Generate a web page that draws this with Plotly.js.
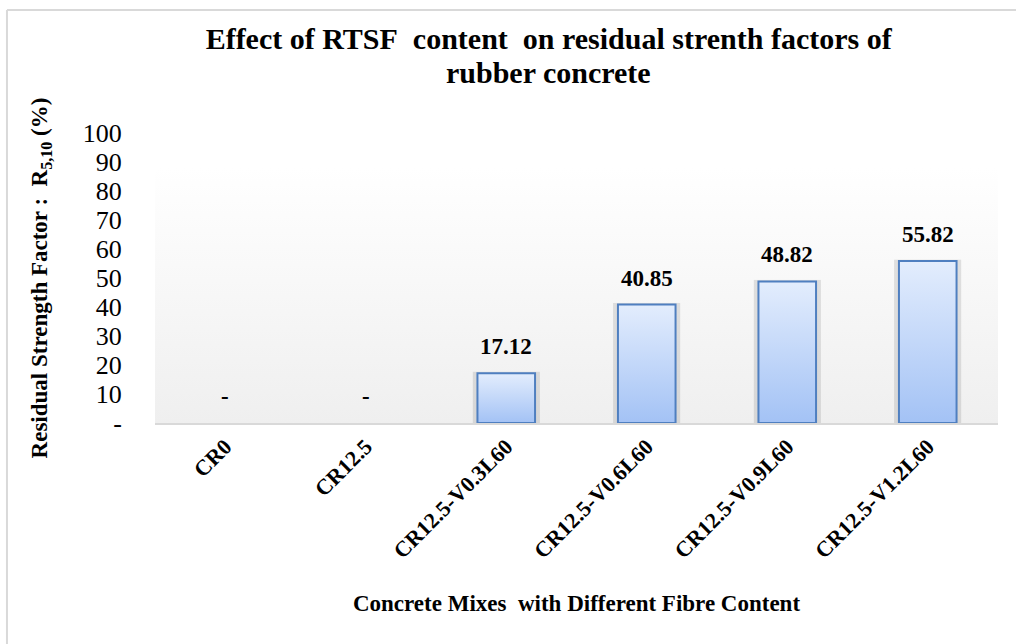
<!DOCTYPE html>
<html>
<head>
<meta charset="utf-8">
<script src="https://cdn.plot.ly/plotly-3.0.1.min.js"></script>
<style>
  html, body { margin: 0; padding: 0; background: #ffffff; }
  #chart { width: 1016px; height: 644px; }
</style>
</head>
<body>
<div id="chart"></div>
<script>
// Concrete mixes and their residual strength factor R5,10 (%)
const mixes = ["CR0", "CR12.5", "CR12.5-V0.3L60", "CR12.5-V0.6L60", "CR12.5-V0.9L60", "CR12.5-V1.2L60"];
const residualFactor = [0, 0, 17.12, 40.85, 48.82, 55.82];
const yTickValues = [0, 10, 20, 30, 40, 50, 60, 70, 80, 90, 100];
const yTickLabels = ["-", "10", "20", "30", "40", "50", "60", "70", "80", "90", "100"];
const titleLines = ["Effect of RTSF\u00a0 content\u00a0 on residual strenth factors of", "rubber concrete"];

const serif = "Liberation Serif, Times New Roman, serif";
const barWidth = 0.41;

// value labels: zero shown as a dash, accounting style
const barText = residualFactor.map(v => v === 0 ? "-" : v.toFixed(2));
// no outline for empty columns
const outlineWidth = residualFactor.map(v => v > 0 ? 2 : 0);

function svgUri(svg) {
  return "data:image/svg+xml;charset=utf-8," + encodeURIComponent(svg);
}

// soft white-to-grey fill for the plotting area
const plotBg = svgUri(
  '<svg xmlns="http://www.w3.org/2000/svg" width="100" height="100" preserveAspectRatio="none">' +
  '<defs><linearGradient id="g" x1="0" y1="0" x2="0" y2="1">' +
  '<stop offset="0" stop-color="#ffffff"/><stop offset="0.12" stop-color="#ffffff"/>' +
  '<stop offset="1" stop-color="#efefef"/>' +
  '</linearGradient></defs><rect width="100" height="100" fill="url(#g)"/></svg>');

// light-blue vertical fill used inside each column
const barFill = svgUri(
  '<svg xmlns="http://www.w3.org/2000/svg" width="100" height="100" preserveAspectRatio="none">' +
  '<defs><linearGradient id="b" x1="0" y1="0" x2="0" y2="1">' +
  '<stop offset="0" stop-color="#e3edfd"/><stop offset="1" stop-color="#a3c2f5"/>' +
  '</linearGradient></defs><rect width="100" height="100" fill="url(#b)"/></svg>');

// faint grey halo behind each column
const barShadow = svgUri(
  '<svg xmlns="http://www.w3.org/2000/svg" width="100" height="100" preserveAspectRatio="none">' +
  '<rect width="100" height="100" fill="#000000" fill-opacity="0.10"/></svg>');

const images = [{
  source: plotBg, xref: "paper", yref: "paper", x: 0, y: 1,
  sizex: 1, sizey: 1, sizing: "stretch", layer: "below", xanchor: "left", yanchor: "top"
}];
residualFactor.forEach((v, i) => {
  if (v <= 0) return;
  images.push({
    source: barShadow, xref: "x", yref: "y", x: i - barWidth / 2 - 0.035, y: v + 0.6,
    sizex: barWidth + 0.07, sizey: v + 0.6, sizing: "stretch", layer: "below",
    xanchor: "left", yanchor: "top"
  });
  images.push({
    source: barFill, xref: "x", yref: "y", x: i - barWidth / 2, y: v,
    sizex: barWidth, sizey: v, sizing: "stretch", layer: "below",
    xanchor: "left", yanchor: "top"
  });
});

const trace = {
  type: "bar",
  x: mixes,
  y: residualFactor,
  width: barWidth,
  marker: { color: "rgba(0,0,0,0)", line: { color: "#4f7fc0", width: outlineWidth } },
  hoverinfo: "x+y"
};

// value labels above each column
const annotations = residualFactor.map((v, i) => ({
  x: mixes[i], y: v, xref: "x", yref: "y",
  text: barText[i], showarrow: false,
  xanchor: "center", yanchor: "bottom", yshift: 12,
  font: { family: serif, size: 23, color: "#000000", weight: "bold" }
}));
// second title line
annotations.push({
  xref: "paper", yref: "paper", x: 0.467, y: 1.21,
  text: titleLines[1], showarrow: false, xanchor: "center", yanchor: "middle",
  font: { family: serif, size: 30, color: "#000000", weight: "bold" }
});

// outer frame of the figure
const frameColor = "#d9d9d9";
const shapes = [
  { type: "line", xref: "paper", yref: "paper", x0: -0.1756, x1: 1.03, y0: 1.424, y1: 1.424,
    line: { color: frameColor, width: 2 } },
  { type: "line", xref: "paper", yref: "paper", x0: -0.1756, x1: -0.1756, y0: 1.424, y1: -0.77,
    line: { color: frameColor, width: 2 } }
];

const layout = {
  width: 1016,
  height: 644,
  margin: { l: 155, r: 18, t: 133, b: 221 },
  paper_bgcolor: "#ffffff",
  plot_bgcolor: "rgba(0,0,0,0)",
  showlegend: false,
  title: {
    text: titleLines[0],
    font: { family: serif, size: 30, color: "#000000", weight: "bold" },
    x: 0.467, xref: "paper", xanchor: "center",
    yref: "container", y: 0.94, yanchor: "middle"
  },
  xaxis: {
    type: "category",
    tickangle: -45,
    tickfont: { family: serif, size: 22, color: "#000000", weight: "bold" },
    showgrid: false,
    showline: true,
    linecolor: "#d9d9d9",
    linewidth: 2,
    ticks: "",
    range: [-0.5, 5.5],
    title: {
      text: "Concrete Mixes\u00a0 with Different Fibre Content",
      font: { family: serif, size: 23, color: "#000000", weight: "bold" },
      standoff: 33
    }
  },
  yaxis: {
    range: [0, 100],
    tickvals: yTickValues,
    ticktext: yTickLabels,
    tickfont: { family: serif, size: 26, color: "#000000" },
    showgrid: false,
    zeroline: false,
    showline: false,
    ticks: "outside",
    ticklen: 27,
    tickcolor: "rgba(0,0,0,0)",
    title: {
      text: "Residual Strength Factor :\u00a0 R<sub>5,10</sub> (%)",
      font: { family: serif, size: 23, color: "#000000", weight: "bold" },
      standoff: 28
    }
  },
  annotations: annotations,
  images: images,
  shapes: shapes
};

Plotly.newPlot("chart", [trace], layout, { displayModeBar: false, staticPlot: true });
</script>
</body>
</html>
